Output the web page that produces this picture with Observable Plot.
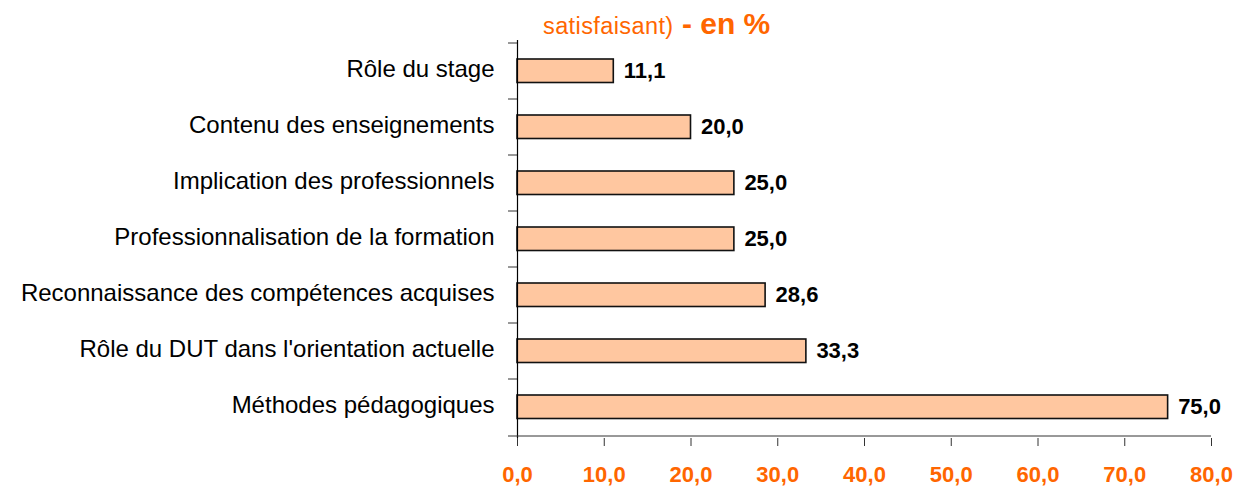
<!DOCTYPE html>
<html><head><meta charset="utf-8">
<script src="https://cdn.jsdelivr.net/npm/d3@7"></script>
<script src="https://cdn.jsdelivr.net/npm/@observablehq/plot@0.6"></script>
<style>
body{margin:0;background:#fff;font-family:"Liberation Sans",Arial,sans-serif;}
#wrap{position:relative;width:1235px;height:486px;overflow:hidden;}
#title{position:absolute;left:543px;top:9px;color:#FF6600;white-space:nowrap;font-size:30px;line-height:30px;font-weight:bold;}
#title .a{font-size:23.5px;font-weight:normal;letter-spacing:0.4px;}
#title .b{font-size:30px;font-weight:bold;}
</style></head>
<body><div id="wrap"><div id="title"><span class="a">satisfaisant)</span> <span class="b">- en %</span></div></div>
<script>
const categories = ["Rôle du stage","Contenu des enseignements","Implication des professionnels","Professionnalisation de la formation","Reconnaissance des compétences acquises","Rôle du DUT dans l'orientation actuelle","Méthodes pédagogiques"];
const values = [11.1, 20.0, 25.0, 25.0, 28.6, 33.3, 75.0];
const xTicks = [0,10,20,30,40,50,60,70,80];
const data = categories.map((c,i)=>({cat:c, value:values[i]}));
const fmt = d => d.toFixed(1).replace(".", ",");
const chart = Plot.plot({
  width:1235, height:486,
  marginLeft:517, marginRight:24, marginTop:40, marginBottom:48,
  style:{fontFamily:'"Liberation Sans",Arial,sans-serif', background:"transparent"},
  x:{domain:[0,80]},
  y:{domain:categories, padding:0},
  marks:[
    Plot.barX(data,{x:"value", y:"cat", fill:"#FFC7A0", stroke:"#111", strokeWidth:1.6, insetTop:16, insetBottom:16.5}),
    Plot.text(data,{x:"value", y:"cat", text:d=>fmt(d.value), textAnchor:"start", dx:10, dy:-1, fontSize:22, fontWeight:"bold", fill:"#000"}),
    Plot.axisY({tickSize:0, tickPadding:23, dy:-2, fontSize:24, fill:"#000", label:null}),
    Plot.axisY({tickSize:9, text:null, dy:-28.5, stroke:"#333", label:null}),
    Plot.axisY(["Méthodes pédagogiques"],{tickSize:9, text:null, dy:28.5, stroke:"#333", label:null}),
    Plot.ruleX([0],{stroke:"#000", strokeWidth:1.2}),
    Plot.ruleY([0],{y:()=>categories[6], dy:28.5, stroke:"#333", x1:0, x2:80}),
    Plot.axisX({ticks:xTicks, tickFormat:fmt, tickSize:8, tickPadding:20, fontSize:22, fontWeight:"bold", color:"#FF6600", stroke:"#333", label:null}),
  ]
});
document.getElementById("wrap").prepend(chart);
</script></body></html>
